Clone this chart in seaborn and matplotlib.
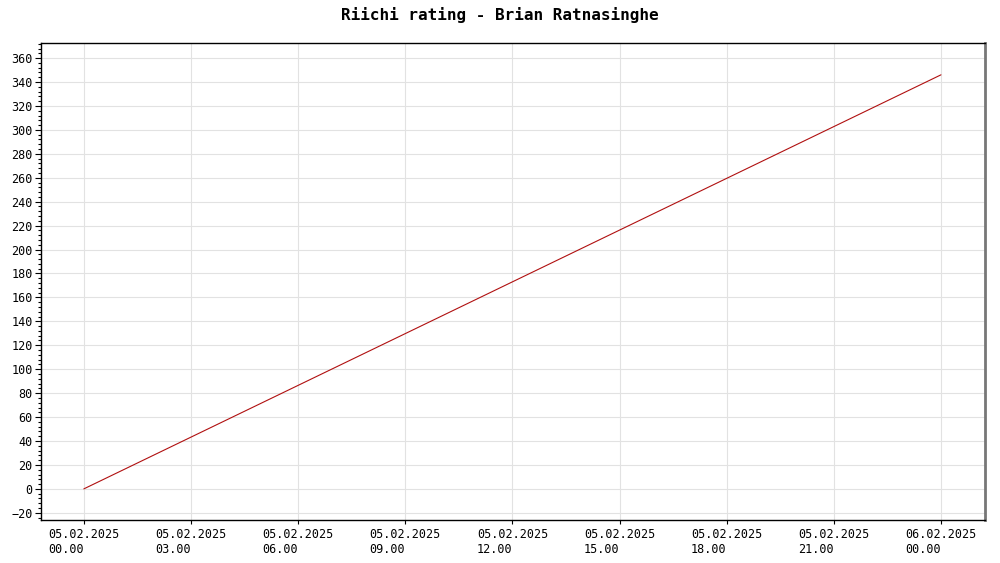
import matplotlib
matplotlib.use("Agg")
import matplotlib.pyplot as plt
import matplotlib.dates as mdates
from matplotlib.ticker import MultipleLocator
import seaborn as sns
import pandas as pd

# Data
TIMES = ["2025-02-05 00:00", "2025-02-06 00:00"]
RATING = [0, 346]
TITLE = "Riichi rating - Brian Ratnasinghe"

df = pd.DataFrame({"time": pd.to_datetime(TIMES), "rating": RATING})

sns.set_theme(style="white")
plt.rcParams["font.family"] = ["DejaVu Sans Mono", "DejaVu Sans"]
plt.rcParams["text.color"] = "black"
plt.rcParams["xtick.color"] = "black"
plt.rcParams["ytick.color"] = "black"

fig = plt.figure(figsize=(10, 5.63), dpi=100)
ax = fig.add_axes([0.041, 0.0764, 0.944, 0.847])

sns.lineplot(data=df, x="time", y="rating", color="#b01010", linewidth=0.8, ax=ax)

ax.set_xlim(pd.Timestamp("2025-02-04 22:48"), pd.Timestamp("2025-02-06 01:14"))
ax.set_ylim(-26, 372.5)

ax.yaxis.set_major_locator(MultipleLocator(20))
ax.yaxis.set_minor_locator(MultipleLocator(4))
ax.xaxis.set_major_locator(mdates.HourLocator(byhour=range(0, 24, 3)))
ax.xaxis.set_major_formatter(mdates.DateFormatter("%d.%m.%Y\n%H.%M"))

ax.grid(True, which="major", color="#e2e2e2", linewidth=0.8)
ax.set_axisbelow(True)

ax.tick_params(axis="y", which="both", left=True, right=False)
ax.tick_params(axis="y", which="major", direction="out", length=4, width=0.8,
               labelsize=8.5, labelcolor="black", pad=2)
ax.tick_params(axis="y", which="minor", direction="out", length=2, width=0.8)
ax.tick_params(axis="x", which="major", direction="out", length=3, width=0.8,
               labelsize=8.5, labelcolor="black", pad=3, bottom=True, top=False)
for lbl in ax.get_xticklabels():
    lbl.set_multialignment("left")

for side in ["top", "left", "bottom"]:
    ax.spines[side].set_color("black")
    ax.spines[side].set_linewidth(1.0)
ax.spines["right"].set_color("#777777")
ax.spines["right"].set_linewidth(2.0)

ax.set_xlabel("")
ax.set_ylabel("")
fig.suptitle(TITLE, fontsize=11.5, fontweight="bold", color="black", y=0.987)

fig.savefig("out.png", dpi=100)
